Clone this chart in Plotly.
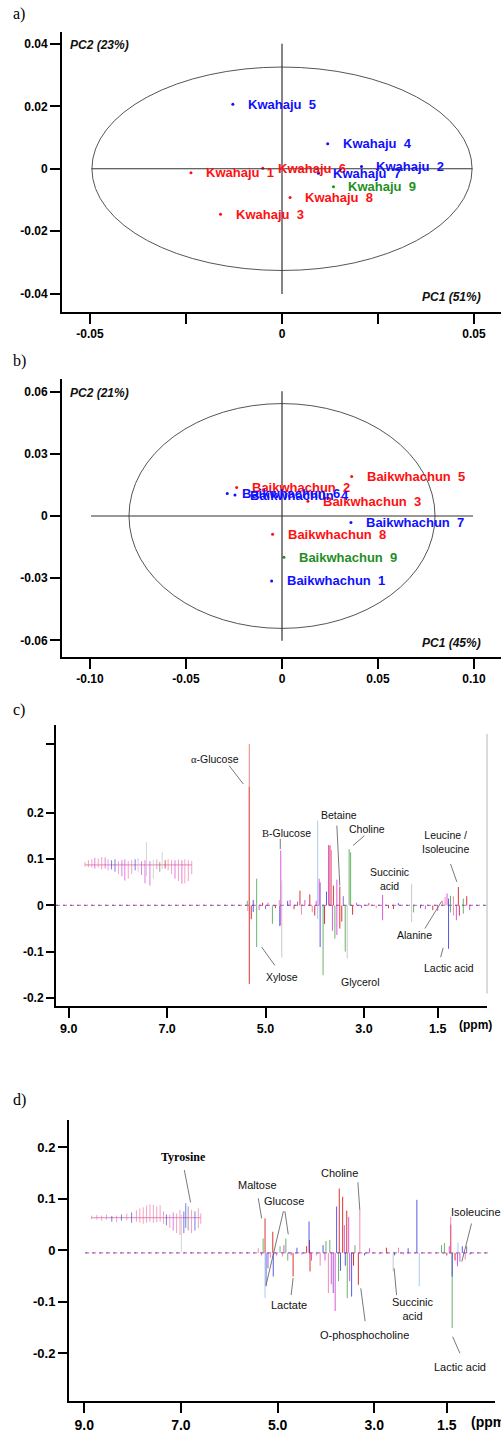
import plotly.graph_objects as go

W, H = 501, 1433

# ---------------- Panel a : PCA scores (Kwahaju) ----------------
a_names = ["Kwahaju 1", "Kwahaju 2", "Kwahaju 3", "Kwahaju 4", "Kwahaju 5",
           "Kwahaju 6", "Kwahaju 7", "Kwahaju 8", "Kwahaju 9"]
a_pc1 = [-0.0237, 0.0207, -0.0160, 0.0119, -0.0128, -0.0050, 0.0095, 0.0021, 0.0134]
a_pc2 = [-0.0013, 0.0007, -0.0146, 0.0080, 0.0207, 0.0002, -0.0014, -0.0092, -0.0058]
a_group = ["A", "B", "A", "B", "B", "A", "B", "A", "C"]
a_ellipse = (0.0495, 0.0326)          # Hotelling ellipse radii (PC1, PC2)
a_cross = (0.0496, 0.0401)
a_xticks = [-0.05, -0.025, 0, 0.025, 0.05]
a_xticktext = ["-0.05", "", "0", "", "0.05"]
a_yticks = [-0.04, -0.02, 0, 0.02, 0.04]
a_yticktext = ["-0.04", "-0.02", "0", "0.02", "0.04"]

# ---------------- Panel b : PCA scores (Baikwhachun) ----------------
b_names = ["Baikwhachun 1", "Baikwhachun 2", "Baikwhachun 3", "Baikwhachun 4", "Baikwhachun 5",
           "Baikwhachun 6", "Baikwhachun 7", "Baikwhachun 8", "Baikwhachun 9"]
b_pc1 = [-0.0054, -0.0236, 0.0135, -0.0245, 0.0363, -0.0285, 0.0359, -0.0049, 0.0010]
b_pc2 = [-0.0313, 0.0137, 0.0071, 0.0101, 0.0190, 0.0108, -0.0032, -0.0088, -0.0199]
b_group = ["B", "A", "A", "B", "A", "B", "B", "A", "C"]
b_ellipse = (0.0797, 0.0542)
b_cross = (0.0995, 0.0602)
b_xticks = [-0.10, -0.05, 0, 0.05, 0.10]
b_xticktext = ["-0.10", "-0.05", "0", "0.05", "0.10"]
b_yticks = [-0.06, -0.03, 0, 0.03, 0.06]
b_yticktext = ["-0.06", "-0.03", "0", "0.03", "0.06"]

# ---------------- Panel c : loading spectrum ----------------
c_ppm = [5.33, 5.33, 5.33, 5.29, 5.36, 5.37, 5.25, 5.25, 5.18, 5.18, 5.13, 5.06, 5.00, 4.95,
         4.86, 4.80, 4.72, 4.71, 4.69, 4.69, 4.67, 4.67, 4.55, 4.50, 4.42, 4.35, 4.30, 4.27,
         4.20, 4.10, 4.05, 4.00, 3.97, 3.94, 3.94, 3.91, 3.89, 3.89, 3.83, 3.80, 3.76, 3.72,
         3.69, 3.66, 3.64, 3.62, 3.59, 3.55, 3.55, 3.49, 3.49, 3.45, 3.42, 3.38, 3.34, 3.30,
         3.27, 3.23, 3.15, 3.05, 2.90, 2.75, 2.62, 2.62, 2.50, 2.40, 2.30, 2.03, 2.03, 1.99,
         1.85, 1.75, 1.60, 1.50, 1.40, 1.35, 1.31, 1.28, 1.28, 1.24, 1.24, 1.18, 1.18, 1.12,
         1.08, 1.06, 0.98, 0.98, 0.91, 0.85]
c_val = [0.350, 0.257, -0.170, -0.030, -0.012, 0.010, 0.012, -0.014, 0.058, -0.090, -0.010, 0.006,
         -0.008, 0.006, -0.040, -0.006, 0.012, -0.045, 0.119, -0.043, 0.054, -0.113, 0.010, 0.012,
         -0.008, 0.008, 0.032, -0.020, 0.012, 0.024, -0.015, -0.022, 0.010, 0.184, -0.030, 0.058,
         0.050, -0.090, -0.151, -0.040, 0.030, 0.131, 0.130, 0.120, -0.055, 0.043, -0.072, 0.056,
         -0.064, 0.041, -0.050, -0.035, 0.020, -0.100, -0.115, 0.122, 0.115, -0.020, 0.006, -0.005,
         0.005, -0.006, 0.023, -0.032, -0.006, -0.008, 0.005, 0.047, -0.036, -0.015, -0.006, -0.008,
         -0.010, -0.012, 0.010, 0.018, 0.026, 0.015, -0.094, 0.021, -0.015, 0.020, -0.022, -0.032,
         0.040, -0.022, 0.015, -0.018, 0.020, -0.010]
c_grp = ["lr", "r", "r", "r", "p", "g", "b", "b", "g", "g", "m", "r", "pu", "m",
         "g", "r", "p", "b", "m", "m", "gy", "gy", "b", "m", "r", "pu", "r", "p",
         "m", "r", "p", "r", "m", "lb", "lb", "m", "pu", "b", "g", "r", "b", "m",
         "r", "p", "m", "r", "g", "m", "m", "r", "r", "r", "pu", "g", "gy", "g",
         "g", "r", "m", "b", "r", "p", "m", "m", "r", "r", "b", "gy", "gy", "g",
         "b", "m", "r", "m", "p", "p", "m", "b", "b", "g", "g", "p", "p", "m",
         "r", "r", "g", "g", "r", "m"]
c_base = 0.0
c_base_span = (9.259, 0.50)
# aromatic region (expanded, drawn with vertical offset)
c_ins_base = 0.088
c_ins_ppm = [8.67, 8.60, 8.53, 8.47, 8.40, 8.33, 8.26, 8.20, 8.13, 8.06, 7.99, 7.92, 7.86, 7.79,
             7.72, 7.65, 7.59, 7.52, 7.45, 7.42, 7.35, 7.28, 7.21, 7.15, 7.10, 7.04, 6.98, 6.91,
             6.84, 6.77, 6.70, 6.64, 6.57, 6.50]
c_ins_hi = [0.006, 0.010, 0.012, 0.015, 0.014, 0.017, 0.016, 0.012, 0.010, 0.012, 0.008, 0.010,
            0.012, 0.008, 0.010, 0.012, 0.015, 0.008, 0.010, 0.049, 0.008, 0.010, 0.012, 0.006,
            0.028, 0.010, 0.012, 0.010, 0.010, 0.012, 0.010, 0.012, 0.010, 0.008]
c_ins_lo = [-0.004, -0.005, -0.006, -0.008, -0.006, -0.010, -0.008, -0.012, -0.010, -0.015, -0.020,
            -0.025, -0.034, -0.030, -0.020, -0.012, -0.015, -0.022, -0.040, -0.025, -0.045, -0.030,
            -0.010, -0.015, -0.010, -0.008, -0.012, -0.020, -0.030, -0.035, -0.041, -0.040, -0.035,
            -0.020]
c_ins_grp = ["p", "p", "p", "m", "p", "p", "m", "p", "b", "b", "p", "m", "m", "p",
             "p", "b", "gy", "m", "m", "gy", "m", "gy", "p", "dg", "gy", "r", "p", "p",
             "m", "p", "m", "p", "p", "p"]
c_xticks = [9.0, 7.0, 5.0, 3.0, 1.5]
c_xticktext = ["9.0", "7.0", "5.0", "3.0", "1.5"]
c_yticks = [0.35, 0.2, 0.1, 0, -0.1, -0.2]
c_yticktext = ["", "0.2", "0.1", "0", "-0.1", "-0.2"]
c_labels = ["<span style='font-family:Liberation Serif'>α</span>-Glucose",
            "<span style='font-family:Liberation Serif'>B</span>-Glucose",
            "Betaine", "Choline", "Succinic<br>acid", "Leucine /<br>Isoleucine",
            "Alanine", "Lactic acid", "Xylose", "Glycerol"]
c_label_ppm = [6.03, 4.58, 3.51, 2.94, 2.49, 1.35, 1.98, 1.27, 4.67, 3.07]
c_label_val = [0.317, 0.157, 0.197, 0.166, 0.057, 0.137, -0.065, -0.135, -0.155, -0.166]
c_leaders = [(5.74, 0.303, 5.45, 0.263), (4.70, 0.144, 4.70, 0.122), (3.55, 0.173, 3.49, 0.043),
             (2.99, 0.151, 3.22, 0.130), (1.24, 0.090, 1.11, 0.051), (1.76, -0.050, 1.42, 0.009),
             (1.44, -0.112, 1.39, -0.092), (5.08, -0.090, 4.81, -0.130)]

# ---------------- Panel d : loading spectrum ----------------
d_ppm = [5.40, 5.33, 5.30, 5.26, 5.26, 5.24, 5.20, 5.15, 5.10, 5.09, 5.02, 4.95, 4.90, 4.87,
         4.83, 4.79, 4.72, 4.68, 4.60, 4.50, 4.40, 4.35, 4.34, 4.33, 4.30, 4.20, 4.12, 4.06,
         4.02, 4.00, 3.95, 3.92, 3.89, 3.85, 3.81, 3.78, 3.74, 3.725, 3.70, 3.655, 3.62, 3.60,
         3.57, 3.56, 3.53, 3.51, 3.47, 3.43, 3.40, 3.33, 3.30, 3.20, 3.10, 2.90, 2.75, 2.61,
         2.58, 2.50, 2.40, 2.30, 2.12, 2.07, 1.90, 1.61, 1.55, 1.50, 1.45, 1.42, 1.42, 1.39,
         1.39, 1.33, 1.28, 1.27, 1.23, 1.18, 1.12, 1.09, 1.02]
d_val = [0.004, -0.010, 0.023, 0.062, -0.093, -0.070, -0.035, -0.015, 0.036, -0.051, -0.010,
         0.008, -0.012, 0.010, 0.023, -0.020, -0.010, -0.051, 0.005, -0.008, 0.008, 0.056, 0.020,
         -0.041, -0.020, -0.010, -0.030, 0.010, -0.020, 0.018, -0.083, 0.020, -0.066, -0.083,
         -0.118, 0.085, -0.060, 0.120, -0.040, 0.104, 0.049, -0.030, 0.077, -0.093, 0.065, -0.060,
         -0.090, -0.030, 0.010, -0.067, 0.078, -0.010, 0.004, -0.008, 0.005, -0.041, -0.010, 0.005,
         -0.008, 0.004, 0.098, -0.070, -0.006, 0.010, 0.014, -0.010, 0.008, 0.065, 0.050, -0.051,
         -0.151, -0.020, -0.031, 0.015, -0.022, 0.008, -0.018, 0.008, -0.008]
d_grp = ["p", "m", "g", "r", "lb", "b", "pu", "p", "r", "b", "m", "g", "p", "m",
         "g", "g", "m", "r", "b", "m", "r", "b", "r", "r", "m", "p", "p", "b",
         "m", "g", "p", "g", "m", "pu", "m", "b", "g", "r", "b", "r", "m", "b",
         "r", "g", "m", "m", "b", "r", "g", "r", "p", "b", "m", "p", "r", "gy",
         "b", "p", "m", "b", "b", "lb", "p", "g", "g", "r", "m", "p", "r", "b",
         "g", "r", "m", "lb", "m", "b", "p", "pu", "b"]
d_base = -0.005
d_base_span = (8.98, 0.65)
d_ins_base = 0.0635
d_ins_ppm = [8.85, 8.74, 8.64, 8.54, 8.43, 8.33, 8.23, 8.12, 8.02, 7.92, 7.85, 7.78, 7.71, 7.64,
             7.57, 7.50, 7.43, 7.36, 7.30, 7.23, 7.16, 7.09, 7.02, 6.99, 6.94, 6.90, 6.85, 6.78,
             6.71, 6.64, 6.59]
d_ins_hi = [0.004, 0.005, 0.004, 0.006, 0.003, 0.004, 0.006, 0.008, 0.010, 0.014, 0.018, 0.020,
            0.024, 0.026, 0.025, 0.022, 0.024, 0.012, 0.006, 0.006, 0.010, 0.008, 0.015, 0.005,
            0.012, 0.028, 0.022, 0.015, 0.012, 0.018, 0.008]
d_ins_lo = [-0.003, -0.004, -0.006, -0.004, -0.008, -0.009, -0.006, -0.005, -0.010, -0.008, -0.010,
            -0.012, -0.010, -0.008, -0.010, -0.009, -0.008, -0.012, -0.015, -0.020, -0.025, -0.030,
            -0.034, -0.066, -0.030, -0.020, -0.025, -0.030, -0.025, -0.020, -0.012]
d_ins_grp = ["p", "p", "p", "p", "b", "p", "b", "p", "b", "p", "p", "p", "p", "p",
             "p", "p", "p", "p", "b", "p", "m", "p", "p", "gy", "b", "b", "dg", "p",
             "b", "p", "p"]
d_xticks = [9.0, 7.0, 5.0, 3.0, 1.5]
d_xticktext = ["9.0", "7.0", "5.0", "3.0", "1.5"]
d_yticks = [0.2, 0.1, 0, -0.1, -0.2]
d_yticktext = ["0.2", "0.1", "0", "-0.1", "-0.2"]
d_labels = ["Tyrosine", "Maltose", "Glucose", "Lactate", "Choline", "O-phosphocholine",
            "Succinic<br>acid", "Isoleucine", "Lactic acid"]
d_label_ppm = [6.94, 5.42, 4.87, 4.76, 3.71, 3.21, 2.22, 0.90, 1.23]
d_label_val = [0.182, 0.127, 0.0965, -0.106, 0.151, -0.164, -0.114, 0.075, -0.226]
d_leaders = [(6.93, 0.156, 6.80, 0.093), (5.40, 0.101, 5.33, 0.062), (4.88, 0.076, 5.24, -0.068),
             (4.85, 0.076, 4.78, 0.031), (4.72, -0.087, 4.68, -0.054), (3.34, 0.132, 3.30, 0.078),
             (3.19, -0.138, 3.28, -0.074), (2.54, -0.087, 2.59, -0.035), (0.99, 0.052, 1.19, -0.022),
             (1.23, -0.200, 1.38, -0.168)]

# ---------------- styles ----------------
SCORE_COLORS = {"A": "#ff1010", "B": "#1010ff", "C": "#1f8f1f"}
SPEC_COLORS = {"r": "rgba(215,30,30,0.9)", "lr": "rgba(240,110,110,0.85)",
               "g": "rgba(70,160,70,0.8)", "b": "rgba(60,60,230,0.85)",
               "m": "rgba(215,60,215,0.85)", "p": "rgba(235,110,160,0.8)",
               "lb": "rgba(160,200,235,0.9)", "gy": "rgba(195,195,195,0.9)",
               "pu": "rgba(130,70,200,0.85)", "dg": "rgba(110,110,110,0.8)"}
SANS = "Liberation Sans, Arial, sans-serif"
SERIF = "Liberation Serif, Times New Roman, serif"


def px_x(p):
    return p / W


def px_y(p):
    return 1 - p / H


fig = go.Figure()
shapes = []
annotations = []

# ---- score plots ----
for (names, pc1, pc2, grp, ell, cross, xa, ya) in [
        (a_names, a_pc1, a_pc2, a_group, a_ellipse, a_cross, "x", "y"),
        (b_names, b_pc1, b_pc2, b_group, b_ellipse, b_cross, "x2", "y2")]:
    shapes.append(dict(type="circle", xref=xa, yref=ya, x0=-ell[0], x1=ell[0], y0=-ell[1], y1=ell[1],
                       line=dict(color="#555555", width=1)))
    shapes.append(dict(type="line", xref=xa, yref=ya, x0=-cross[0], x1=cross[0], y0=0, y1=0,
                       line=dict(color="#333333", width=1.2)))
    shapes.append(dict(type="line", xref=xa, yref=ya, x0=0, x1=0, y0=-cross[1], y1=cross[1],
                       line=dict(color="#333333", width=1.2)))
    for g in ["A", "B", "C"]:
        xs = [x for x, gg in zip(pc1, grp) if gg == g]
        ys = [y for y, gg in zip(pc2, grp) if gg == g]
        fig.add_trace(go.Scatter(x=xs, y=ys, mode="markers", xaxis=xa, yaxis=ya,
                                 marker=dict(color=SCORE_COLORS[g], size=3), showlegend=False,
                                 hoverinfo="skip"))
    for n, x, y, g in zip(names, pc1, pc2, grp):
        annotations.append(dict(x=x, y=y, xref=xa, yref=ya, text=n.replace(" ", "\u00a0\u00a0"),
                                showarrow=False, xanchor="left", yanchor="middle", xshift=13,
                                font=dict(family=SANS, size=13, color=SCORE_COLORS[g], weight="bold")))


# ---- spectra ----
def add_stems(ppm, hi, lo, grp, xa, ya, width=1.0):
    for key, col in SPEC_COLORS.items():
        xs, ys = [], []
        for p, h, l, g in zip(ppm, hi, lo, grp):
            if g == key:
                xs += [p, p, None]
                ys += [l, h, None]
        if xs:
            fig.add_trace(go.Scatter(x=xs, y=ys, mode="lines", xaxis=xa, yaxis=ya,
                                     line=dict(color=col, width=width), showlegend=False,
                                     hoverinfo="skip"))


for (ppm, val, grp, base, span, ippm, ihi, ilo, igrp, ibase, xa, ya) in [
        (c_ppm, c_val, c_grp, c_base, c_base_span, c_ins_ppm, c_ins_hi, c_ins_lo, c_ins_grp, c_ins_base, "x3", "y3"),
        (d_ppm, d_val, d_grp, d_base, d_base_span, d_ins_ppm, d_ins_hi, d_ins_lo, d_ins_grp, d_ins_base, "x4", "y4")]:
    # dashed multi-coloured baseline
    fig.add_trace(go.Scatter(x=list(span), y=[base, base], mode="lines", xaxis=xa, yaxis=ya,
                             line=dict(color="rgba(225,90,150,0.8)", width=1.2, dash="4px,3px"),
                             showlegend=False, hoverinfo="skip"))
    fig.add_trace(go.Scatter(x=list(span), y=[base, base], mode="lines", xaxis=xa, yaxis=ya,
                             line=dict(color="rgba(70,90,210,0.7)", width=1.2, dash="2px,5px"),
                             showlegend=False, hoverinfo="skip"))
    add_stems(ppm, val, [base] * len(ppm), grp, xa, ya)
    # inset baseline
    fig.add_trace(go.Scatter(x=[ippm[0], ippm[-1]], y=[ibase, ibase], mode="lines", xaxis=xa, yaxis=ya,
                             line=dict(color="rgba(220,120,170,0.7)", width=1.2),
                             showlegend=False, hoverinfo="skip"))
    add_stems(ippm, [ibase + h for h in ihi], [ibase + l for l in ilo], igrp, xa, ya, width=0.8)

for txt, x, y in zip(c_labels, c_label_ppm, c_label_val):
    annotations.append(dict(x=x, y=y, xref="x3", yref="y3", text=txt, showarrow=False,
                            font=dict(family=SANS, size=10.5, color="#111111")))
for (x0, y0, x1, y1) in c_leaders:
    shapes.append(dict(type="line", xref="x3", yref="y3", x0=x0, y0=y0, x1=x1, y1=y1,
                       line=dict(color="#555555", width=0.8)))

for txt, x, y in zip(d_labels, d_label_ppm, d_label_val):
    if txt == "Tyrosine":
        f = dict(family=SERIF, size=12, color="black", weight="bold")
    else:
        f = dict(family=SANS, size=11, color="#111111")
    annotations.append(dict(x=x, y=y, xref="x4", yref="y4", text=txt, showarrow=False, font=f))
for (x0, y0, x1, y1) in d_leaders:
    shapes.append(dict(type="line", xref="x4", yref="y4", x0=x0, y0=y0, x1=x1, y1=y1,
                       line=dict(color="#555555", width=0.8)))

# light grey right border line of panel c
shapes.append(dict(type="line", xref="paper", yref="paper", x0=px_x(487), x1=px_x(487),
                   y0=px_y(995), y1=px_y(735), line=dict(color="#cfcfcf", width=1.5)))

# ---- panel captions and axis titles ----
for t, y in [("a)", 14), ("b)", 362), ("c)", 711), ("d)", 1102)]:
    annotations.append(dict(x=px_x(11), y=px_y(y), xref="paper", yref="paper", text=t,
                            showarrow=False, xanchor="left", yanchor="middle",
                            font=dict(family=SERIF, size=16, color="black")))
for t, x, y, anc in [("PC2 (23%)", 68, 45, "left"), ("PC1 (51%)", 483, 297, "right"),
                     ("PC2 (21%)", 68, 394, "left"), ("PC1 (45%)", 483, 644, "right")]:
    annotations.append(dict(x=px_x(x), y=px_y(y), xref="paper", yref="paper", text=t,
                            showarrow=False, xanchor=anc, yanchor="middle",
                            font=dict(family=SANS, size=12, color="#111111", weight="bold",
                                      style="italic")))
annotations.append(dict(x=px_x(457), y=px_y(1026), xref="paper", yref="paper", text="(ppm)",
                        showarrow=False, xanchor="left", yanchor="middle",
                        font=dict(family=SANS, size=12, color="black", weight="bold")))
annotations.append(dict(x=px_x(469), y=px_y(1424), xref="paper", yref="paper", text="(ppm)",
                        showarrow=False, xanchor="left", yanchor="middle",
                        font=dict(family=SANS, size=14, color="black", weight="bold")))

AX = dict(showgrid=False, zeroline=False, showline=True, linecolor="black", linewidth=2,
          ticks="outside", tickwidth=2, tickcolor="black", tickmode="array")
AB_FONT = dict(family=SANS, size=12, color="black", weight="bold")

fig.update_layout(
    width=W, height=H, margin=dict(l=0, r=0, t=0, b=0),
    paper_bgcolor="white", plot_bgcolor="white", showlegend=False,
    xaxis=dict(AX, domain=[px_x(62), 1.0], range=[-0.05729, 0.05703], anchor="y",
               tickvals=a_xticks, ticktext=a_xticktext, ticklen=10, tickfont=AB_FONT),
    yaxis=dict(AX, domain=[px_y(312), px_y(32)], range=[-0.04576, 0.04384], anchor="x",
               tickvals=a_yticks, ticktext=a_yticktext, ticklen=10, tickfont=AB_FONT),
    xaxis2=dict(AX, domain=[px_x(62), 1.0], range=[-0.11458, 0.11406], anchor="y2",
                tickvals=b_xticks, ticktext=b_xticktext, ticklen=10, tickfont=AB_FONT),
    yaxis2=dict(AX, domain=[px_y(658), px_y(380)], range=[-0.06803, 0.06582], anchor="x2",
                tickvals=b_yticks, ticktext=b_yticktext, ticklen=10, tickfont=AB_FONT),
    xaxis3=dict(AX, domain=[px_x(56), px_x(487)], range=[9.259, 0.498], anchor="y3",
                tickvals=c_xticks, ticktext=c_xticktext, ticklen=10,
                tickfont=dict(family=SANS, size=12.5, color="black", weight="bold")),
    yaxis3=dict(AX, domain=[px_y(1007), px_y(726)], range=[-0.217, 0.391], anchor="x3",
                tickvals=c_yticks, ticktext=c_yticktext, ticklen=8,
                tickfont=dict(family=SANS, size=12, color="black", weight="bold")),
    xaxis4=dict(AX, domain=[px_x(69), px_x(495)], range=[9.315, 0.504], anchor="y4",
                tickvals=d_xticks, ticktext=d_xticktext, ticklen=10,
                tickfont=dict(family=SANS, size=14, color="black", weight="bold")),
    yaxis4=dict(AX, domain=[px_y(1403), px_y(1121.7)], range=[-0.293, 0.253], anchor="x4",
                tickvals=d_yticks, ticktext=d_yticktext, ticklen=9,
                tickfont=dict(family=SANS, size=13, color="black", weight="bold")),
    shapes=shapes, annotations=annotations,
)

fig.write_html("out.html", config={"displayModeBar": False},
               post_script="document.body.style.margin='0';document.body.style.overflow='hidden';")
